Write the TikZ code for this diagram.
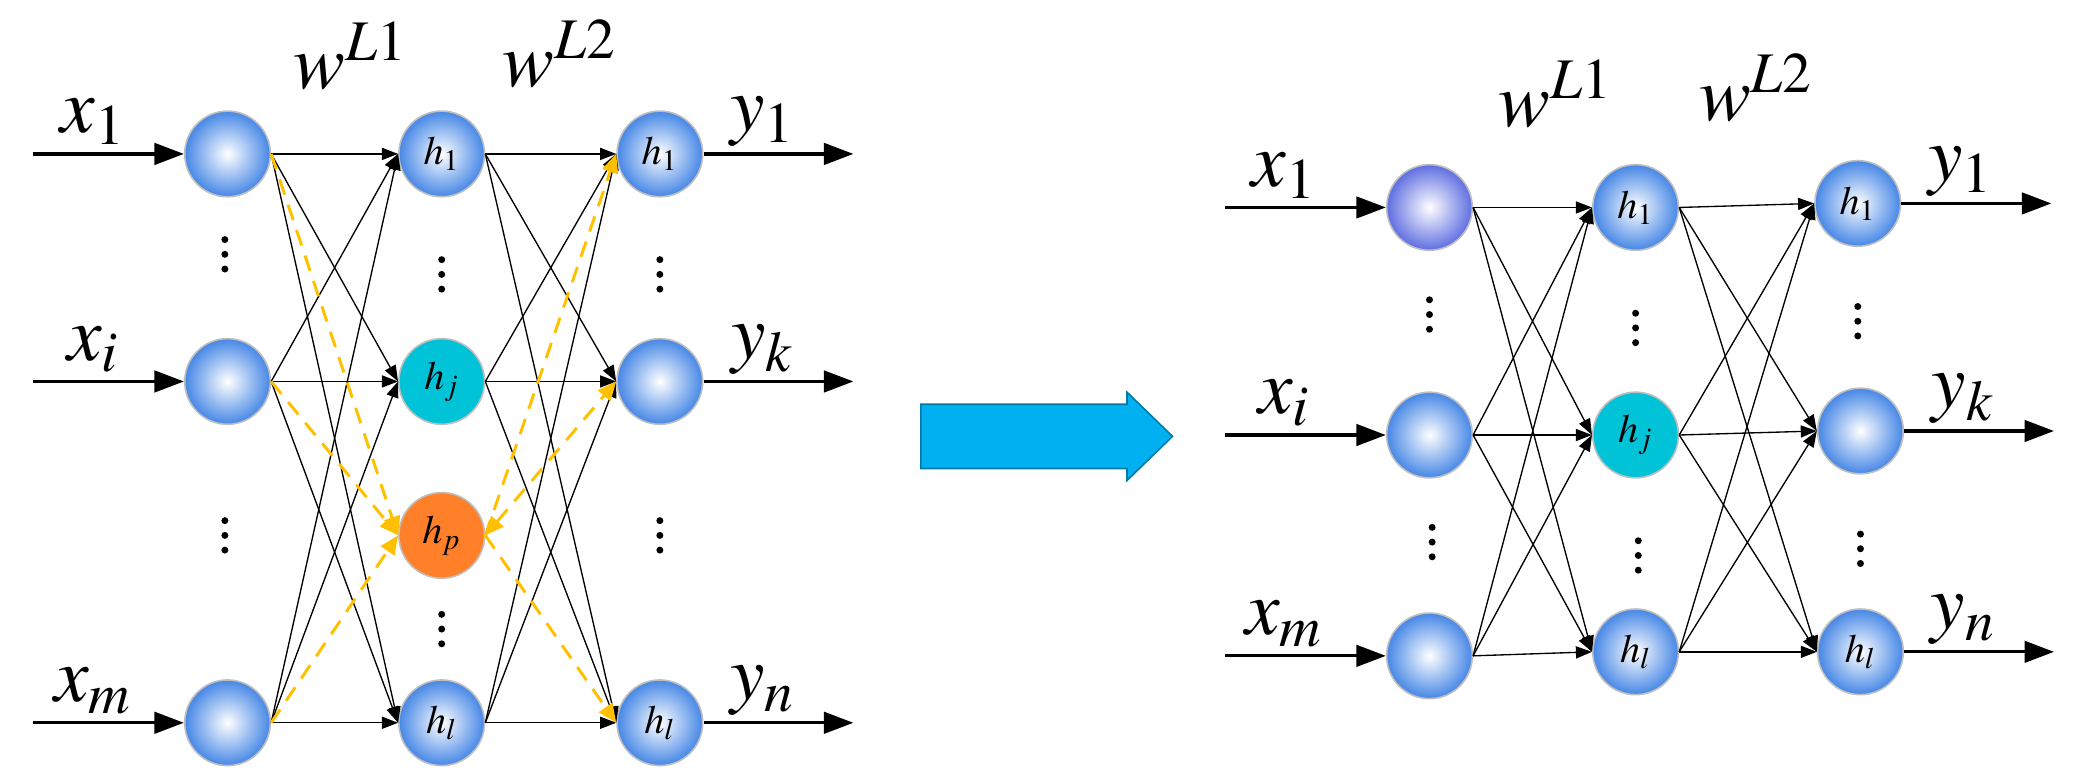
\documentclass[tikz,border=0pt]{standalone}
\usepackage{mathptmx}
\usetikzlibrary{arrows.meta}
\definecolor{ballblue}{RGB}{70,135,230}
\definecolor{ballpurple}{RGB}{95,110,225}
\definecolor{hjcyan}{RGB}{0,195,215}
\definecolor{hporange}{RGB}{255,128,40}
\definecolor{dashorange}{RGB}{255,192,0}
\definecolor{bigarrow}{RGB}{0,176,240}

\tikzset{
    neuron/.style={circle, minimum size=32pt, inner sep=0pt, draw=black!25,
        line width=.6pt, inner color=white, outer color=ballblue,
        font=\fontsize{15}{15}\selectfont},
    link/.style={-{Triangle[length=6pt, width=4.5pt]}, line width=.5pt},
    feed/.style={-{Triangle[length=11pt, width=8pt]}, line width=1.2pt},
    probe/.style={-{Triangle[length=7pt, width=6pt]}, dashorange,
        line width=1.1pt, dash pattern=on 6pt off 4pt},
    varlabel/.style={font=\fontsize{29}{29}\selectfont, inner sep=0pt},
}

\begin{document}
\begin{tikzpicture}
    [x=.5pt, y=-.5pt]
    \useasboundingbox (0,0) rectangle (1560,584);

    % Left network
    \foreach \nm / \px / \py in {a1/170/115, a2/170/285, a3/170/540}
        \node[neuron] (\nm) at (\px, \py) {};
    \node[neuron] (b1) at (330,115) {$h_1$};
    \node[neuron, inner color=hjcyan, outer color=hjcyan] (bj) at (330,285) {$h_j$};
    \node[neuron, inner color=hporange, outer color=hporange] (bp) at (330,400) {$h_p$};
    \node[neuron] (bl) at (330,540) {$h_l$};
    \node[neuron] (c1) at (493,115) {$h_1$};
    \node[neuron] (ck) at (493,285) {};
    \node[neuron] (cn) at (493,540) {$h_l$};

    \foreach \s in {a1,a2,a3}
        \foreach \t in {b1,bj,bl}
            \draw[link] (\s.east) -- (\t.west);
    \foreach \s in {b1,bj,bl}
        \foreach \t in {c1,ck,cn}
            \draw[link] (\s.east) -- (\t.west);
    % Probed neuron
    \foreach \s in {a1,a2,a3}
        \draw[probe] (\s.east) -- (bp.west);
    \draw[probe] (bp.east) -- (c1.west);
    \draw[probe, {Triangle[length=7pt, width=6pt]}-{Triangle[length=7pt, width=6pt]}] (bp.east) -- (ck.west);
    \draw[probe] (bp.east) -- (cn.west);

    % Inputs and outputs
    \foreach \s / \lab in {a1/1, a2/i, a3/m} {
        \coordinate (\s-in) at ([xshift=-113pt*.5]\s.west);
        \draw[feed] (\s-in) -- (\s.west);
        \node[varlabel] (\s-lab) at ([xshift=-34pt, yshift=12pt]\s.west)
            {$x_\lab$};
    }
    \foreach \s / \lab in {c1/1, ck/k, cn/n} {
        \coordinate (\s-out) at ([xshift=112pt*.5]\s.east);
        \draw[feed] (\s.east) -- (\s-out);
        \node[varlabel] (\s-lab) at ([xshift=22pt, yshift=12pt]\s.east)
            {$y_\lab$};
    }
    \node[varlabel] (wl1) at (262,42) {$w^{L1}$};
    \node[varlabel] (wl2) at (418,40) {$w^{L2}$};

    % Dots
    \foreach \px / \py in {168/190, 168/400, 330/205, 330/470, 493/205, 493/400,
                           1068/235, 1070/405, 1222/245, 1224/415, 1388/240, 1390/410}
        \foreach \dy in {-11,0,11}
            \fill (\px, \py+\dy) circle (2.6);

    % Big arrow
    \draw[fill=bigarrow, draw=bigarrow!70!black, line width=.6pt]
        (688,302) -- (842,302) -- (842,293) -- (876,326) -- (842,359)
        -- (842,350) -- (688,350) -- cycle;

    % Right network
    \node[neuron, outer color=ballpurple] (d1) at (1068,155) {};
    \node[neuron] (d2) at (1068,325) {};
    \node[neuron] (d3) at (1068,490) {};
    \node[neuron] (e1) at (1222,155) {$h_1$};
    \node[neuron, inner color=hjcyan, outer color=hjcyan] (ej) at (1222,325) {$h_j$};
    \node[neuron] (el) at (1222,487) {$h_l$};
    \node[neuron] (f1) at (1388,152) {$h_1$};
    \node[neuron] (fk) at (1390,322) {};
    \node[neuron] (fn) at (1390,487) {$h_l$};

    \foreach \s in {d1,d2,d3}
        \foreach \t in {e1,ej,el}
            \draw[link] (\s.east) -- (\t.west);
    \foreach \s in {e1,ej,el}
        \foreach \t in {f1,fk,fn}
            \draw[link] (\s.east) -- (\t.west);

    \foreach \s / \lab in {d1/1, d2/i, d3/m} {
        \coordinate (\s-in) at ([xshift=-120pt*.5]\s.west);
        \draw[feed] (\s-in) -- (\s.west);
        \node[varlabel] (\s-lab) at ([xshift=-38pt, yshift=12pt]\s.west)
            {$x_\lab$};
    }
    \foreach \s / \lab in {f1/1, fk/k, fn/n} {
        \coordinate (\s-out) at ([xshift=112pt*.5]\s.east);
        \draw[feed] (\s.east) -- (\s-out);
        \node[varlabel] (\s-lab) at ([xshift=22pt, yshift=12pt]\s.east)
            {$y_\lab$};
    }
    \node[varlabel] (vl1) at (1162,70) {$w^{L1}$};
    \node[varlabel] (vl2) at (1312,66) {$w^{L2}$};
\end{tikzpicture}
\end{document}
